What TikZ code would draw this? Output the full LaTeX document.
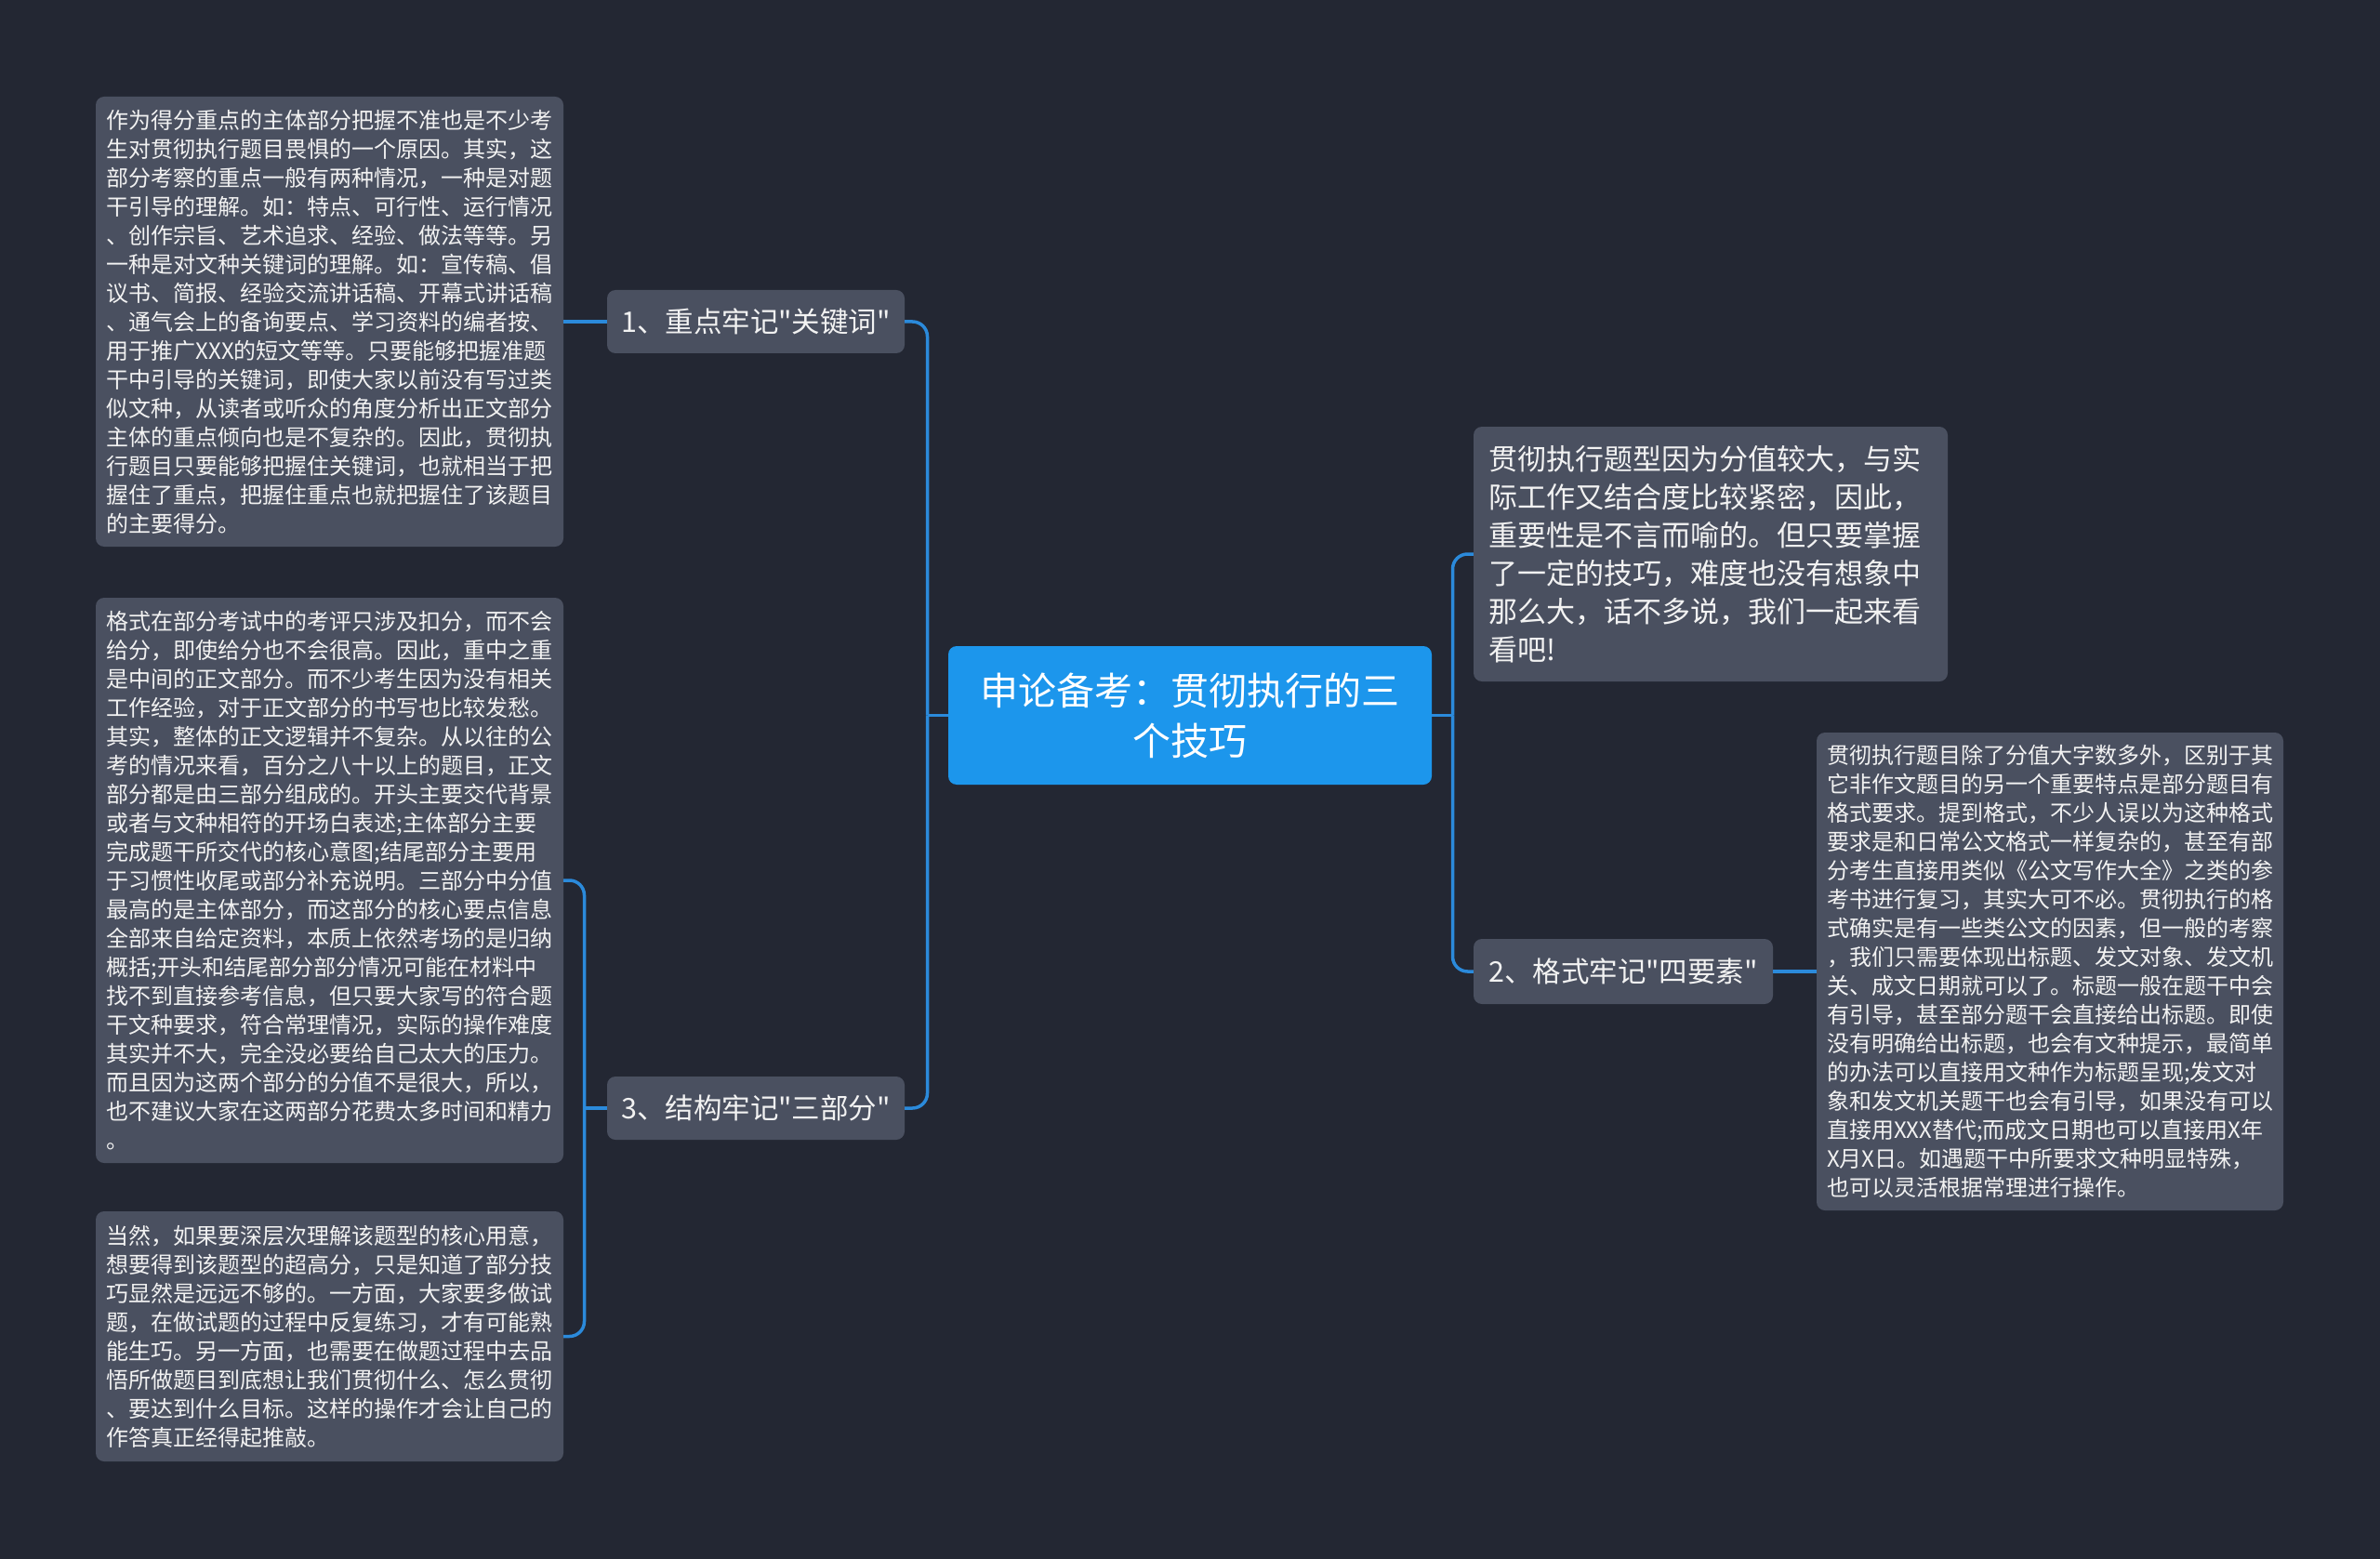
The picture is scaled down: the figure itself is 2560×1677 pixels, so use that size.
\documentclass[tikz,border=0pt]{standalone}
\usepackage{fontspec}
\setmainfont{Noto Sans CJK SC}[Ligatures=TeXOff]
\definecolor{bgc}{HTML}{232733}
\definecolor{boxc}{HTML}{4A5060}
\definecolor{mainc}{HTML}{1C96EC}
\definecolor{linec}{HTML}{2B8ADB}
\definecolor{txtc}{HTML}{F2F2F2}
\begin{document}
\begin{tikzpicture}[x=1pt,y=-1pt,
  conn/.style={draw=linec,line width=3.5pt},
  rconn/.style={conn,rounded corners=16pt},
  mainbox/.style={fill=mainc,rounded corners=9pt,inner sep=0pt,align=center,text=white,
    font=\fontsize{41}{54}\selectfont},
  topicbox/.style={fill=boxc,rounded corners=9pt,inner sep=0pt,text=txtc,
    font=\fontsize{30.5}{38}\selectfont},
  hubbox/.style={fill=boxc,rounded corners=9pt,inner xsep=16pt,inner ysep=0pt,
    text width=478pt,align=left,text=txtc,font=\fontsize{31}{41}\selectfont},
  leafbox/.style={fill=boxc,rounded corners=9pt,inner sep=0pt,align=left,text=txtc,
    font=\fontsize{24}{31}\selectfont}]
\useasboundingbox (0,0) rectangle (2560,1677);
\fill[bgc] (0,0) rectangle (2560,1677);

\node[mainbox,minimum width=520pt,minimum height=149pt] (c) at (1280,769.5)
  {申论备考：贯彻执行的三\\个技巧};

\node[topicbox,minimum width=320pt,minimum height=68pt] (n1) at (813,346)
  {1、重点牢记"关键词"};
\node[topicbox,minimum width=320pt,minimum height=68pt] (n3) at (813,1192)
  {3、结构牢记"三部分"};
\node[topicbox,minimum width=322pt,minimum height=70pt] (n2) at (1746,1045)
  {2、格式牢记"四要素"};

\node[hubbox,minimum height=274pt] (t0) at (1840,596)
  {贯彻执行题型因为分值较大，与实\\
   际工作又结合度比较紧密，因此，\\
   重要性是不言而喻的。但只要掌握\\
   了一定的技巧，难度也没有想象中\\
   那么大，话不多说，我们一起来看\\
   看吧!};

\node[leafbox,minimum width=503pt,minimum height=484pt] (l1) at (354.5,346)
  {作为得分重点的主体部分把握不准也是不少考\\
   生对贯彻执行题目畏惧的一个原因。其实，这\\
   部分考察的重点一般有两种情况，一种是对题\\
   干引导的理解。如：特点、可行性、运行情况\\
   、创作宗旨、艺术追求、经验、做法等等。另\\
   一种是对文种关键词的理解。如：宣传稿、倡\\
   议书、简报、经验交流讲话稿、开幕式讲话稿\\
   、通气会上的备询要点、学习资料的编者按、\\
   用于推广XXX的短文等等。只要能够把握准题\\
   干中引导的关键词，即使大家以前没有写过类\\
   似文种，从读者或听众的角度分析出正文部分\\
   主体的重点倾向也是不复杂的。因此，贯彻执\\
   行题目只要能够把握住关键词，也就相当于把\\
   握住了重点，把握住重点也就把握住了该题目\\
   的主要得分。};

\node[leafbox,minimum width=503pt,minimum height=608pt] (l3a) at (354.5,947)
  {格式在部分考试中的考评只涉及扣分，而不会\\
   给分，即使给分也不会很高。因此，重中之重\\
   是中间的正文部分。而不少考生因为没有相关\\
   工作经验，对于正文部分的书写也比较发愁。\\
   其实，整体的正文逻辑并不复杂。从以往的公\\
   考的情况来看，百分之八十以上的题目，正文\\
   部分都是由三部分组成的。开头主要交代背景\\
   或者与文种相符的开场白表述;主体部分主要\\
   完成题干所交代的核心意图;结尾部分主要用\\
   于习惯性收尾或部分补充说明。三部分中分值\\
   最高的是主体部分，而这部分的核心要点信息\\
   全部来自给定资料，本质上依然考场的是归纳\\
   概括;开头和结尾部分部分情况可能在材料中\\
   找不到直接参考信息，但只要大家写的符合题\\
   干文种要求，符合常理情况，实际的操作难度\\
   其实并不大，完全没必要给自己太大的压力。\\
   而且因为这两个部分的分值不是很大，所以，\\
   也不建议大家在这两部分花费太多时间和精力\\
   。};

\node[leafbox,minimum width=503pt,minimum height=269pt] (l3b) at (354.5,1437.5)
  {当然，如果要深层次理解该题型的核心用意，\\
   想要得到该题型的超高分，只是知道了部分技\\
   巧显然是远远不够的。一方面，大家要多做试\\
   题，在做试题的过程中反复练习，才有可能熟\\
   能生巧。另一方面，也需要在做题过程中去品\\
   悟所做题目到底想让我们贯彻什么、怎么贯彻\\
   、要达到什么目标。这样的操作才会让自己的\\
   作答真正经得起推敲。};

\node[leafbox,minimum width=502pt,minimum height=514pt] (l2) at (2205,1045)
  {贯彻执行题目除了分值大字数多外，区别于其\\
   它非作文题目的另一个重要特点是部分题目有\\
   格式要求。提到格式，不少人误以为这种格式\\
   要求是和日常公文格式一样复杂的，甚至有部\\
   分考生直接用类似《公文写作大全》之类的参\\
   考书进行复习，其实大可不必。贯彻执行的格\\
   式确实是有一些类公文的因素，但一般的考察\\
   ，我们只需要体现出标题、发文对象、发文机\\
   关、成文日期就可以了。标题一般在题干中会\\
   有引导，甚至部分题干会直接给出标题。即使\\
   没有明确给出标题，也会有文种提示，最简单\\
   的办法可以直接用文种作为标题呈现;发文对\\
   象和发文机关题干也会有引导，如果没有可以\\
   直接用XXX替代;而成文日期也可以直接用X年\\
   X月X日。如遇题干中所要求文种明显特殊，\\
   也可以灵活根据常理进行操作。};

\coordinate (jl) at (997.5,769.5);
\coordinate (jr) at (1562.5,769.5);
\coordinate (j3) at (628.5,1192);

\draw[conn] (c.west) -- (jl);
\draw[rconn] (jl) |- (n1.east);
\draw[rconn] (jl) |- (n3.east);
\draw[conn] (c.east) -- (jr);
\draw[rconn] (jr) |- (t0.west);
\draw[rconn] (jr) |- (n2.west);
\draw[conn] (n1.west) -- (l1.east);
\draw[conn] (n3.west) -- (j3);
\draw[rconn] (j3) |- (l3a.east);
\draw[rconn] (j3) |- (l3b.east);
\draw[conn] (n2.east) -- (l2.west);
\end{tikzpicture}
\end{document}
